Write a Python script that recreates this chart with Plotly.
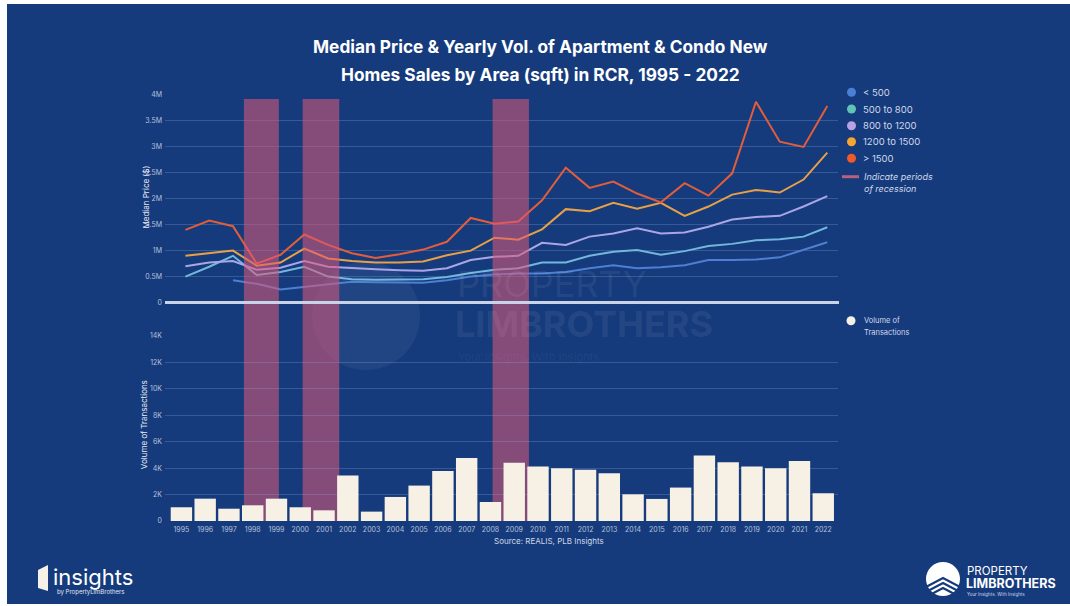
import plotly.graph_objects as go

# ---- data -------------------------------------------------------------
years = list(range(1995, 2023))
year_labels = [str(y) for y in years]

# yearly volume of transactions (units)
volume = [1040, 1690, 930, 1190, 1690, 1040, 810, 3440, 710, 1820,
          2680, 3790, 4760, 1440, 4400, 4120, 4000, 3870, 3620, 2020,
          1670, 2530, 4960, 4450, 4120, 4000, 4550, 2100]

# median price by unit size (S$ million)
price_lt500 = [None, None, 0.43, 0.36, 0.25, 0.30, 0.36, 0.40, 0.39, 0.38,
               0.38, 0.43, 0.50, 0.54, 0.56, 0.56, 0.59, 0.66, 0.72, 0.66,
               0.68, 0.72, 0.82, 0.82, 0.83, 0.87, 1.01, 1.16]
price_500_800 = [0.50, 0.69, 0.90, 0.53, 0.59, 0.69, 0.50, 0.45, 0.44, 0.44,
                 0.45, 0.49, 0.57, 0.63, 0.66, 0.77, 0.77, 0.90, 0.98, 1.01,
                 0.92, 0.99, 1.09, 1.13, 1.20, 1.22, 1.27, 1.45]
price_800_1200 = [0.70, 0.77, 0.80, 0.63, 0.67, 0.80, 0.69, 0.66, 0.64, 0.62,
                  0.61, 0.66, 0.82, 0.88, 0.90, 1.15, 1.11, 1.27, 1.33, 1.43,
                  1.33, 1.35, 1.46, 1.60, 1.65, 1.67, 1.85, 2.05]
price_1200_1500 = [0.90, 0.95, 1.00, 0.71, 0.77, 1.04, 0.85, 0.80, 0.77, 0.77,
                   0.79, 0.91, 1.00, 1.25, 1.21, 1.41, 1.80, 1.76, 1.92, 1.81,
                   1.92, 1.67, 1.85, 2.08, 2.17, 2.12, 2.37, 2.89]
price_gt1500 = [1.40, 1.58, 1.47, 0.75, 0.92, 1.31, 1.11, 0.95, 0.86, 0.93,
                1.02, 1.17, 1.63, 1.52, 1.56, 1.97, 2.60, 2.21, 2.33, 2.10,
                1.93, 2.30, 2.06, 2.49, 3.87, 3.10, 3.00, 3.79]

series_names = ["< 500", "500 to 800", "800 to 1200", "1200 to 1500", "> 1500"]
series_values = [price_lt500, price_500_800, price_800_1200, price_1200_1500, price_gt1500]
line_colors = ["#4d7fd2", "#72b8dc", "#aaa6e6", "#e8a046", "#e35d3a"]
dot_colors = ["#4a7fd6", "#5fc4b5", "#b7a3e3", "#f5a531", "#f05a2a"]

price_ticks = [0, 0.5, 1, 1.5, 2, 2.5, 3, 3.5, 4]
price_tick_text = ["0", "0.5M", "1M", "1.5M", "2M", "2.5M", "3M", "3.5M", "4M"]
volume_ticks = [0, 2000, 4000, 6000, 8000, 10000, 12000, 14000]
volume_tick_text = ["0", "2K", "4K", "6K", "8K", "10K", "12K", "14K"]

# recession periods (start, end) in year units
recessions = [(1997.63, 1999.10), (2000.10, 2001.64), (2008.09, 2009.62)]

# ---- styling ----------------------------------------------------------
NAVY = "#163b7c"
GRID = "rgba(140,170,225,0.28)"
TICK = "#b3c0dc"
BAND = "rgba(222,88,120,0.56)"
CREAM = "#f6f0e5"
FONT = "Inter"

W, H = 1070, 606
L, R, T, B = 165, 838, 95, 521


def px(x):
    return (x - L) / (R - L)


def py(y):
    return (B - y) / (B - T)


top_dom = [py(302.5), 1.0]
bot_dom = [0.0, py(336)]

fig = go.Figure()

fig.add_trace(go.Bar(
    x=years, y=volume, marker=dict(color=CREAM, line=dict(width=0)),
    xaxis="x", yaxis="y", name="Volume of Transactions", showlegend=False,
))

for name, vals, col in zip(series_names, series_values, line_colors):
    fig.add_trace(go.Scatter(
        x=years, y=vals, mode="lines", line=dict(color=col, width=2),
        xaxis="x2", yaxis="y2", name=name, showlegend=False,
    ))

shapes = []
# page background with thin light border
shapes.append(dict(type="rect", xref="paper", yref="paper", layer="below",
                   x0=px(7), x1=px(1072), y0=py(604), y1=py(4),
                   fillcolor=NAVY, line=dict(width=0)))

# faint watermark emblem
shapes.append(dict(type="circle", xref="paper", yref="paper", layer="below",
                   x0=px(312), x1=px(420), y0=py(370), y1=py(262),
                   fillcolor="rgba(255,255,255,0.05)", line=dict(width=0)))

# recession bands: under the bars, over the price lines
for s, e in recessions:
    shapes.append(dict(type="rect", xref="x", yref="paper", layer="between",
                       x0=s, x1=e, y0=0, y1=top_dom[0],
                       fillcolor=BAND, line=dict(width=0)))
    shapes.append(dict(type="rect", xref="x", yref="paper", layer="above",
                       x0=s, x1=e, y0=top_dom[0], y1=py(99),
                       fillcolor=BAND, line=dict(width=0)))

# baseline separating the two panels
shapes.append(dict(type="line", xref="paper", yref="paper", layer="above",
                   x0=px(165), x1=px(839), y0=top_dom[0], y1=top_dom[0],
                   line=dict(color="#c9d3e8", width=3)))

# legend markers
legend_y = [92.3, 109, 125.7, 141.7, 158.3]
for yy, col in zip(legend_y, dot_colors):
    shapes.append(dict(type="circle", xref="paper", yref="paper",
                       xsizemode="pixel", ysizemode="pixel",
                       xanchor=px(851.5), yanchor=py(yy),
                       x0=-4.5, x1=4.5, y0=-4.5, y1=4.5,
                       fillcolor=col, line=dict(width=0)))
shapes.append(dict(type="line", xref="paper", yref="paper",
                   x0=px(842), x1=px(859), y0=py(176.7), y1=py(176.7),
                   line=dict(color="#b8607e", width=3)))
shapes.append(dict(type="circle", xref="paper", yref="paper",
                   xsizemode="pixel", ysizemode="pixel",
                   xanchor=px(851), yanchor=py(320.7),
                   x0=-4.5, x1=4.5, y0=-4.5, y1=4.5,
                   fillcolor=CREAM, line=dict(width=0)))

# logo emblem (bottom right)
shapes.append(dict(type="circle", xref="paper", yref="paper",
                   x0=px(926), x1=px(960), y0=py(596), y1=py(562),
                   fillcolor="#ffffff", line=dict(width=0)))
for k in range(3):
    yy = 582 + k * 5
    shapes.append(dict(type="path", xref="paper", yref="paper",
                       path=f"M {px(924)},{py(yy + 6)} L {px(943)},{py(yy - 4)} L {px(962)},{py(yy + 6)}",
                       line=dict(color=NAVY, width=2.2)))

# left logo icon
shapes.append(dict(type="path", xref="paper", yref="paper",
                   path=(f"M {px(38)},{py(570)} L {px(48)},{py(565)} L {px(48)},{py(591)} "
                         f"L {px(38)},{py(588)} Z"),
                   fillcolor="#f4f1e8", line=dict(width=0)))

ann = []


def text(x, y, s, size, color="#ffffff", xanchor="left", family=FONT, **kw):
    ann.append(dict(x=px(x), y=py(y), xref="paper", yref="paper", text=s,
                    showarrow=False, xanchor=xanchor, yanchor="middle",
                    font=dict(size=size, color=color, family=family), **kw))


text(540, 47, "<b>Median Price & Yearly Vol. of Apartment & Condo New</b>", 17.3, xanchor="center")
text(540, 74, "<b>Homes Sales by Area (sqft) in RCR, 1995 - 2022</b>", 17.3, xanchor="center")

for yy, name in zip(legend_y, series_names):
    text(861, yy, name, 9.5, color="#d0d8ea")
text(862, 176.7, "<i>Indicate periods</i>", 9, color="#d0d8ea")
text(862, 188.3, "<i>of recession</i>", 9, color="#d0d8ea")
text(862, 320.5, "Volume of", 7.5, color="#d0d8ea")
text(862, 332.5, "Transactions", 7.5, color="#d0d8ea")

text(145, 197.5, "Median Price ($)", 8, color="#e6ebf5", xanchor="center", textangle=-90)
text(143.5, 424.7, "Volume of Transactions", 8, color="#e6ebf5", xanchor="center", textangle=-90)

text(548.5, 541, "Source: REALIS, PLB Insights", 8, color="#d0d8ea", xanchor="center")

# watermark
text(455, 284, "PROPERTY", 36, color="rgba(255,255,255,0.07)")
text(453, 324, "<b>LIMBROTHERS</b>", 36, color="rgba(255,255,255,0.07)")
text(456, 357, "Your Insights. With Insights", 11, color="rgba(255,255,255,0.06)")

# footer logos
text(51, 577, "insights", 22, color="#ffffff")
text(55, 591.5, "by PropertyLimBrothers", 6, color="#e0e6f2")
text(965, 571, "PROPERTY", 11.5, color="#ffffff")
text(964, 583.5, "<b>LIMBROTHERS</b>", 12.5, color="#ffffff")
text(965, 594, "Your Insights. With Insights", 4.5, color="#cdd6ea")

axis_common = dict(showline=False, zeroline=False, ticks="",
                   tickfont=dict(size=7, color=TICK, family=FONT))

fig.update_layout(
    width=W, height=H,
    margin=dict(l=L, r=W - R, t=T, b=H - B, pad=0),
    paper_bgcolor="#ffffff", plot_bgcolor="rgba(0,0,0,0)",
    showlegend=False, bargap=0.1,
    font=dict(family=FONT, color="#ffffff"),
    xaxis=dict(domain=[0, 1], anchor="y", range=[1994.31, 2022.62],
               tickmode="array", tickvals=years, ticktext=year_labels,
               showgrid=False, ticklabelstandoff=3, **axis_common),
    yaxis=dict(domain=bot_dom, anchor="x", range=[0, 14000],
               tickmode="array", tickvals=volume_ticks, ticktext=volume_tick_text,
               showgrid=True, gridcolor=GRID, gridwidth=1, ticklabelstandoff=2,
               **axis_common),
    xaxis2=dict(domain=[0, 1], anchor="y2", range=[1994.14, 2022.45],
                showticklabels=False, showgrid=False, **axis_common),
    yaxis2=dict(domain=top_dom, anchor="x2", range=[0, 4],
                tickmode="array", tickvals=price_ticks, ticktext=price_tick_text,
                showgrid=True, gridcolor=GRID, gridwidth=1, ticklabelstandoff=2,
                **axis_common),
    shapes=shapes, annotations=ann,
)

fig.write_html("out.html")
